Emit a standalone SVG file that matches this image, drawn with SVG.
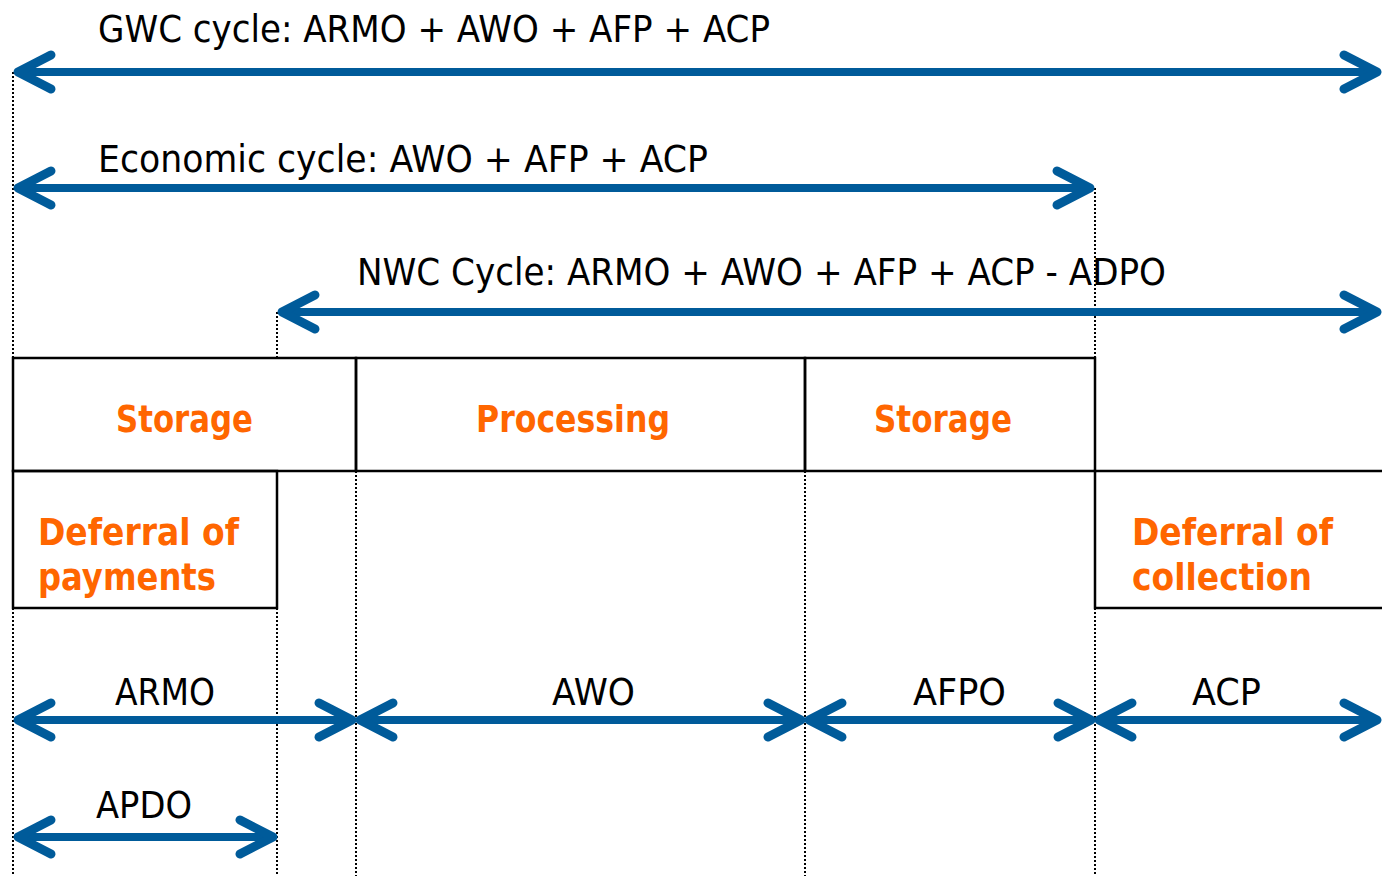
<svg xmlns="http://www.w3.org/2000/svg" width="1382" height="876" viewBox="0 0 1382 876">
<style>
.t{font-family:"DejaVu Sans","Liberation Sans",sans-serif;font-size:37px;fill:#000}
.o{font-family:"DejaVu Sans","Liberation Sans",sans-serif;font-size:38px;font-weight:bold;fill:#ff6600}
.dot{stroke:#000;stroke-width:2;stroke-dasharray:2 2;fill:none}
.box{stroke:#000;stroke-width:2.5;fill:none}
.arr{stroke:#005b9a;stroke-width:8;fill:none;marker-start:url(#ah);marker-end:url(#ah)}
</style>
<defs>
<marker id="ah" markerUnits="userSpaceOnUse" orient="auto-start-reverse" refX="0" refY="0" markerWidth="60" markerHeight="60" overflow="visible">
<path d="M-33,-17 L0,0 L-33,17" fill="none" stroke="#005b9a" stroke-width="9" stroke-linecap="round" stroke-linejoin="round"/>
</marker>
</defs>
<rect width="1382" height="876" fill="#fff"/>
<g id="guides">
<line class="dot" x1="13" y1="72" x2="13" y2="876"/>
<line class="dot" x1="1095" y1="188" x2="1095" y2="876"/>
<line class="dot" x1="277" y1="312" x2="277" y2="358"/>
<line class="dot" x1="277" y1="608" x2="277" y2="876"/>
<line class="dot" x1="356" y1="471" x2="356" y2="876"/>
<line class="dot" x1="805" y1="471" x2="805" y2="876"/>
</g>
<g id="storage1">
<path class="box" d="M13,358 H356 V471 H13 Z"/>
<text class="o" x="116" y="432" textLength="137" lengthAdjust="spacingAndGlyphs">Storage</text>
</g>
<g id="processing">
<path class="box" d="M356,358 H805 V471 H356 Z"/>
<text class="o" x="476" y="432" textLength="194" lengthAdjust="spacingAndGlyphs">Processing</text>
</g>
<g id="storage2">
<path class="box" d="M805,358 H1095 V471 H805 Z"/>
<text class="o" x="874" y="432" textLength="138" lengthAdjust="spacingAndGlyphs">Storage</text>
</g>
<g id="deferral-payments">
<path class="box" d="M13,471 H277 V608 H13 Z"/>
<text class="o" x="38" y="545" textLength="201" lengthAdjust="spacingAndGlyphs">Deferral of</text>
<text class="o" x="38" y="590" textLength="178" lengthAdjust="spacingAndGlyphs">payments</text>
</g>
<g id="deferral-collection">
<path class="box" d="M1382,471 H1095 V608 H1382"/>
<text class="o" x="1132" y="545" textLength="201" lengthAdjust="spacingAndGlyphs">Deferral of</text>
<text class="o" x="1132" y="590" textLength="180" lengthAdjust="spacingAndGlyphs">collection</text>
</g>
<g id="connectors">
<line class="arr" x1="18" y1="72" x2="1377" y2="72"/>
<line class="arr" x1="18" y1="188" x2="1090" y2="188"/>
<line class="arr" x1="282" y1="312" x2="1377" y2="312"/>
<line class="arr" x1="18" y1="720" x2="352" y2="720"/>
<line class="arr" x1="360" y1="720" x2="801" y2="720"/>
<line class="arr" x1="809" y1="720" x2="1091" y2="720"/>
<line class="arr" x1="1099" y1="720" x2="1377" y2="720"/>
<line class="arr" x1="18" y1="837" x2="273" y2="837"/>
</g>
<g id="labels">
<text class="t" x="98" y="42" textLength="672" lengthAdjust="spacingAndGlyphs">GWC cycle: ARMO + AWO + AFP + ACP</text>
<text class="t" x="98" y="172" textLength="610" lengthAdjust="spacingAndGlyphs">Economic cycle: AWO + AFP + ACP</text>
<text class="t" x="357" y="285" textLength="809" lengthAdjust="spacingAndGlyphs">NWC Cycle: ARMO + AWO + AFP + ACP - ADPO</text>
<text class="t" x="115" y="705" textLength="100" lengthAdjust="spacingAndGlyphs">ARMO</text>
<text class="t" x="552" y="705" textLength="83" lengthAdjust="spacingAndGlyphs">AWO</text>
<text class="t" x="913" y="705" textLength="93" lengthAdjust="spacingAndGlyphs">AFPO</text>
<text class="t" x="1192" y="705" textLength="69" lengthAdjust="spacingAndGlyphs">ACP</text>
<text class="t" x="96" y="818" textLength="96" lengthAdjust="spacingAndGlyphs">APDO</text>
</g>
</svg>
